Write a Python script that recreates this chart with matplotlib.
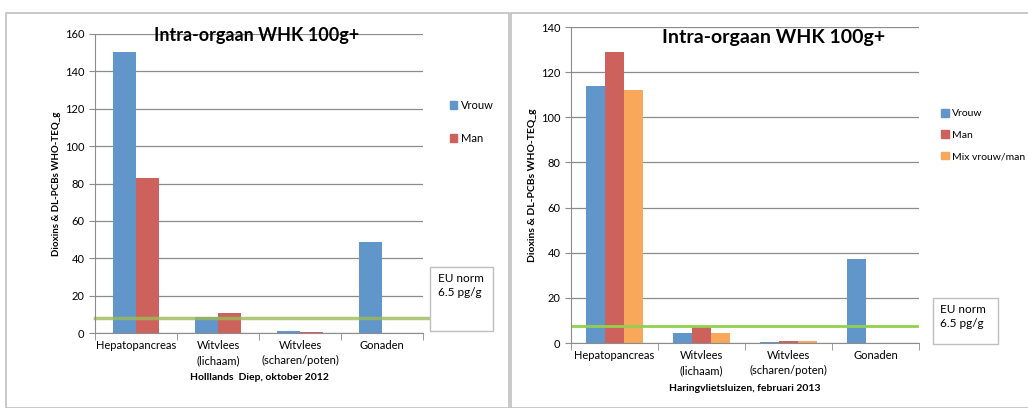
import matplotlib
matplotlib.use('Agg')
import matplotlib.pyplot as plt
from matplotlib.patches import Rectangle, Patch
import numpy as np

plt.rcParams['font.family'] = ['Lato', 'DejaVu Sans']

# data
categories = ['Hepatopancreas', 'Witvlees\n(lichaam)', 'Witvlees\n(scharen/poten)', 'Gonaden']
left_vrouw = [150.5, 8.3, 1.2, 48.5]
left_man = [82.7, 10.5, 0.8, 0]
right_vrouw = [114, 4.3, 0.5, 37]
right_man = [129, 7.3, 1.0, 0]
right_mix = [112, 4.3, 1.0, 0]
left_norm = 7.9
right_norm = 7.5
title = 'Intra-orgaan WHK 100g+'
ylabel = 'Dioxins & DL-PCBs WHO-TEQ_g'
left_xlabel = 'Holllands  Diep, oktober 2012'
right_xlabel = 'Haringvlietsluizen, februari 2013'

BLUE = '#6096CA'
RED = '#CD625D'
ORANGE = '#F9A75B'
GRID = '#8C8C8C'

W, H = 1028, 408
fig = plt.figure(figsize=(W / 100, H / 100), dpi=100)


def px(x0, y0, x1, y1):
    return [x0 / W, 1 - y1 / H, (x1 - x0) / W, (y1 - y0) / H]


def style_axes(ax, ymax, step):
    ax.set_xlim(-0.5, 3.5)
    ax.set_ylim(0, ymax)
    ax.set_yticks(np.arange(0, ymax + 1, step))
    ax.yaxis.grid(True, color=GRID, linewidth=0.9)
    ax.set_axisbelow(True)
    for s in ['top', 'right']:
        ax.spines[s].set_visible(False)
    ax.spines['left'].set_color(GRID)
    ax.spines['bottom'].set_color(GRID)
    ax.set_xticks(range(4))
    ax.set_xticklabels(categories, fontsize=8, linespacing=1.45)
    ax.tick_params(axis='x', length=0, pad=5)
    ax.set_xticks(np.arange(-0.5, 3.6, 1), minor=True)
    ax.tick_params(axis='x', which='minor', length=5, color=GRID)
    ax.tick_params(axis='y', length=4, color=GRID, labelsize=8)


# panel borders
fig.patches.append(Rectangle((6 / W, 0), 503 / W, (H - 13) / H, transform=fig.transFigure,
                             fill=False, edgecolor='#C0C0C0', linewidth=1.2))
fig.patches.append(Rectangle((511 / W, 0), 520 / W, (H - 13) / H, transform=fig.transFigure,
                             fill=False, edgecolor='#C0C0C0', linewidth=1.2))

# left chart
ax1 = fig.add_axes(px(95, 34, 423, 333))
x = np.arange(4)
w = 0.28
ax1.bar(x - w / 2, left_vrouw, w, color=BLUE, label='Vrouw')
ax1.bar(x + w / 2, left_man, w, color=RED, label='Man')
style_axes(ax1, 160, 20)
ax1.axhline(left_norm, xmin=0, xmax=1.02, color='#9BBB59', linewidth=2.5, alpha=0.8, clip_on=False)
ax1.set_ylabel(ylabel, fontsize=7, fontweight='bold', labelpad=3)
ax1.set_xlabel(left_xlabel, fontsize=7.5, fontweight='bold', labelpad=5)
fig.text(257 / W, 1 - 36 / H, title, fontsize=13, fontweight='bold', ha='center', va='center')
ax1.legend(handles=[Patch(color=BLUE, label='Vrouw'), Patch(color=RED, label='Man')],
           loc='upper left', bbox_to_anchor=(444 / W, 1 - 94 / H), bbox_transform=fig.transFigure,
           frameon=False, fontsize=8, handlelength=0.7, handleheight=0.7, handletextpad=0.3,
           labelspacing=2.0, borderpad=0)
fig.patches.append(Rectangle((430 / W, 1 - 331 / H), 63 / W, 64 / H, transform=fig.transFigure,
                             facecolor='white', edgecolor='#BFBFBF', linewidth=1))
fig.text(438 / W, 1 - 273 / H, 'EU norm\n6.5 pg/g', fontsize=8.5, va='top', ha='left', linespacing=1.35)

# right chart
ax2 = fig.add_axes(px(571, 27, 919, 343))
w = 0.218
ax2.bar(x - w, right_vrouw, w, color=BLUE)
ax2.bar(x, right_man, w, color=RED)
ax2.bar(x + w, right_mix, w, color=ORANGE)
style_axes(ax2, 140, 20)
ax2.axhline(right_norm, xmin=0, xmax=0.995, color='#92D050', linewidth=2)
ax2.set_ylabel(ylabel, fontsize=7.5, fontweight='bold', labelpad=3)
ax2.set_xlabel(right_xlabel, fontsize=7.5, fontweight='bold', labelpad=6)
fig.text(774 / W, 1 - 37 / H, title, fontsize=14, fontweight='bold', ha='center', va='center')
ax2.legend(handles=[Patch(color=BLUE, label='Vrouw'), Patch(color=RED, label='Man'),
                    Patch(color=ORANGE, label='Mix vrouw/man')],
           loc='upper left', bbox_to_anchor=(936 / W, 1 - 104 / H), bbox_transform=fig.transFigure,
           frameon=False, fontsize=7.5, handlelength=0.7, handleheight=0.7, handletextpad=0.3,
           labelspacing=1.15, borderpad=0)
fig.patches.append(Rectangle((933 / W, 1 - 344 / H), 65 / W, 46 / H, transform=fig.transFigure,
                             facecolor='white', edgecolor='#BFBFBF', linewidth=1))
fig.text(940 / W, 1 - 304 / H, 'EU norm\n6.5 pg/g', fontsize=8.5, va='top', ha='left', linespacing=1.35)

fig.savefig('out.png', dpi=100)
